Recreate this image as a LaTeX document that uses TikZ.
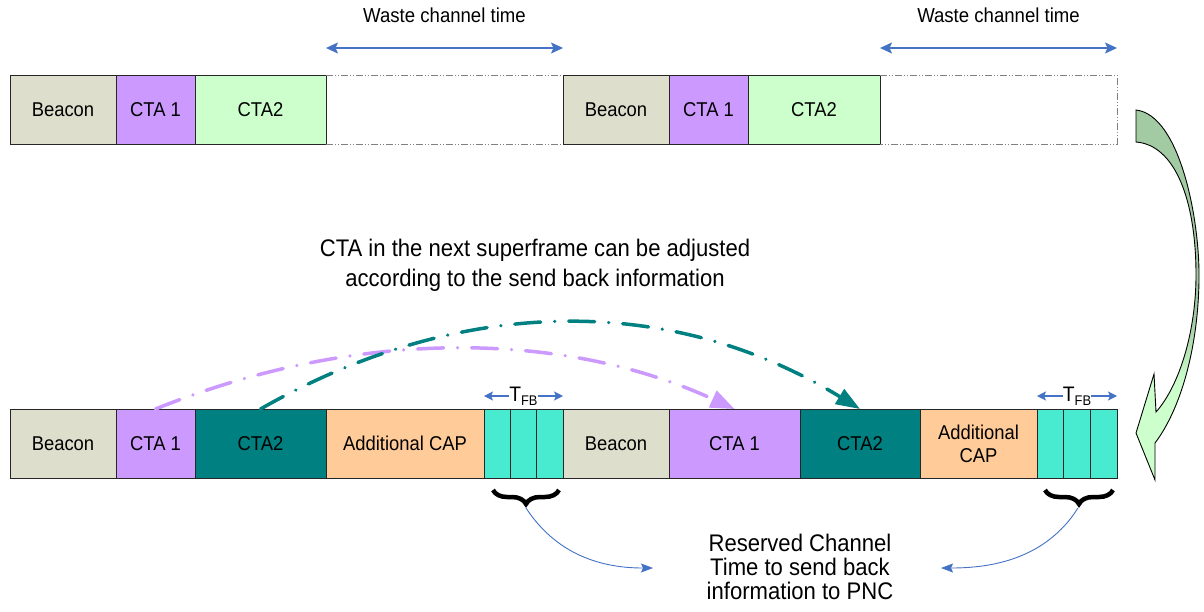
\documentclass[tikz,border=0pt]{standalone}
\usepackage{fontspec}
\setmainfont{Liberation Sans}[FakeStretch=0.92]
\usetikzlibrary{arrows.meta,decorations.pathreplacing}

\definecolor{beaconfill}{RGB}{221,223,204}
\definecolor{ctaone}{RGB}{204,153,255}
\definecolor{ctatwolight}{RGB}{204,255,204}
\definecolor{ctatwodark}{RGB}{0,128,128}
\definecolor{capfill}{RGB}{255,204,153}
\definecolor{fbfill}{RGB}{72,234,208}
\definecolor{linkblue}{RGB}{68,114,196}
\definecolor{greentop}{RGB}{163,203,163}
\definecolor{wastegray}{RGB}{128,128,128}

% vertical shading for the big turn arrow: dark green above, light green below
\pgfdeclareverticalshading{turnshade}{100bp}{color(0bp)=(ctatwolight); color(38bp)=(ctatwolight); color(47bp)=(greentop); color(100bp)=(greentop)}

\begin{document}
\begin{tikzpicture}[x=1pt,y=-1pt,
  cell/.style={draw=black!85, line width=0.9pt, anchor=north west, minimum height=69pt,
    inner sep=0pt, outer sep=0pt, align=center, font=\fontsize{20}{23}\selectfont},
  openslot/.style={anchor=north west, minimum height=69pt, inner sep=0pt, outer sep=0pt},
  slotedge/.style={draw=wastegray, line width=0.8pt,
    dash pattern=on 7pt off 2pt on 1pt off 2pt on 1pt off 2pt},
  spanarrow/.style={draw=linkblue, line width=1.5pt,
    {Stealth[length=12pt,width=11pt,inset=2.5pt]}-{Stealth[length=12pt,width=11pt,inset=2.5pt]}},
  spanlabel/.style={inner sep=0pt, font=\fontsize{20.2}{24}\selectfont},
  fbarrow/.style={draw=linkblue, line width=1.2pt, -{Stealth[length=9pt,width=9pt,inset=2pt]}},
  fblabel/.style={inner sep=0pt, font=\fontsize{21}{22}\selectfont},
  fbbrace/.style={draw=black, line width=4.5pt, decorate, decoration={brace, amplitude=14pt}},
  notearrow/.style={draw=linkblue, line width=0.9pt, -{Stealth[length=12pt,width=9pt,inset=2pt]}},
  note/.style={align=center, inner sep=0pt},
  linkone/.style={draw=ctaone, line width=3.5pt, line cap=round,
    dash pattern=on 26pt off 14pt on 0.01pt off 14pt, -{Triangle[length=24pt,width=18pt]}},
  linktwo/.style={draw=ctatwodark, line width=3.5pt, line cap=round,
    dash pattern=on 26pt off 14pt on 0.01pt off 14pt, -{Triangle[length=24pt,width=17pt]}}
]
\fill[white] (0,0) rectangle (1204,611);
\useasboundingbox (0,0) rectangle (1204,611);

% ---------- upper timeline: two superframes with unused time ----------
\node[cell, fill=beaconfill, minimum width=106pt] (tb1) at (10,75) {Beacon};
\node[cell, fill=ctaone, minimum width=79pt] (tc11) at (tb1.north east) {CTA 1};
\node[cell, fill=ctatwolight, minimum width=131pt] (tc21) at (tc11.north east) {CTA2};
\node[openslot, minimum width=237pt] (tw1) at (tc21.north east) {};
\draw[slotedge] (tw1.north west) -- (tw1.north east);
\draw[slotedge] (tw1.south west) -- (tw1.south east);
\node[cell, fill=beaconfill, minimum width=106pt] (tb2) at (tw1.north east) {Beacon};
\node[cell, fill=ctaone, minimum width=79pt] (tc12) at (tb2.north east) {CTA 1};
\node[cell, fill=ctatwolight, minimum width=132pt] (tc22) at (tc12.north east) {CTA2};
\node[openslot, minimum width=237pt] (tw2) at (tc22.north east) {};
\draw[slotedge] (tw2.north west) -- (tw2.north east) -- (tw2.south east) -- (tw2.south west);

\draw[spanarrow] ([yshift=27pt]tw1.north west) -- ([yshift=27pt]tw1.north east);
\draw[spanarrow] ([yshift=27pt]tw2.north west) -- ([yshift=27pt]tw2.north east);
\node[spanlabel] (tl1) at ([yshift=60pt]tw1.north) {Waste channel time};
\node[spanlabel] (tl2) at ([yshift=60pt]tw2.north) {Waste channel time};

% ---------- turn arrow on the right ----------
\shade[shading=turnshade, draw=black, line width=0.9pt]
  (1136,110) .. controls (1180,115) and (1200,220) .. (1199,280)
  .. controls (1198,350) and (1180,410) .. (1155,443)
  -- (1155,480) -- (1136,433) -- (1154,374) -- (1156,412)
  .. controls (1180,385) and (1196,330) .. (1196,275)
  .. controls (1196,200) and (1175,145) .. (1136,142) -- cycle;

% ---------- lower timeline: adjusted superframes with feedback slots ----------
\node[cell, fill=beaconfill, minimum width=106pt] (bb1) at (10,409) {Beacon};
\node[cell, fill=ctaone, minimum width=79pt] (bc11) at (bb1.north east) {CTA 1};
\node[cell, fill=ctatwodark, minimum width=131pt] (bc21) at (bc11.north east) {CTA2};
\node[cell, fill=capfill, minimum width=158pt] (bcap1) at (bc21.north east) {Additional CAP};
\node[cell, fill=fbfill, minimum width=26.3pt] (f11) at (bcap1.north east) {};
\node[cell, fill=fbfill, minimum width=26.3pt] (f12) at (f11.north east) {};
\node[cell, fill=fbfill, minimum width=26.4pt] (f13) at (f12.north east) {};
\node[cell, fill=beaconfill, minimum width=106pt] (bb2) at (f13.north east) {Beacon};
\node[cell, fill=ctaone, minimum width=131pt] (bc12) at (bb2.north east) {CTA 1};
\node[cell, fill=ctatwodark, minimum width=120pt] (bc22) at (bc12.north east) {CTA2};
\node[cell, fill=capfill, minimum width=117pt] (bcap2) at (bc22.north east) {Additional\\CAP};
\node[cell, fill=fbfill, minimum width=26.7pt] (f21) at (bcap2.north east) {};
\node[cell, fill=fbfill, minimum width=26.7pt] (f22) at (f21.north east) {};
\node[cell, fill=fbfill, minimum width=26.6pt] (f23) at (f22.north east) {};

% feedback slot width markers
\node[fblabel] (fb1) at ([yshift=13pt]f12.north) {T\raisebox{-4pt}{\fontsize{14}{14}\selectfont FB}};
\draw[fbarrow] (fb1.west) -- (fb1.west -| f11.west);
\draw[fbarrow] (fb1.east) -- (fb1.east -| f13.east);
\node[fblabel] (fb2) at ([yshift=13pt]f22.north) {T\raisebox{-4pt}{\fontsize{14}{14}\selectfont FB}};
\draw[fbarrow] (fb2.west) -- (fb2.west -| f21.west);
\draw[fbarrow] (fb2.east) -- (fb2.east -| f23.east);

% CTA adjustment links
\draw[linkone] (bc11.north) .. controls (354,329) and (560,329) .. (bc12.north);
\draw[linktwo] (bc21.north) .. controls (462,294) and (672,294) .. (bc22.north);

\node[note, font=\fontsize{24}{30}\selectfont] (adj) at (535,265)
  {CTA in the next superframe can be adjusted\\according to the send back information};

% braces under the feedback slots
\coordinate (br1r) at ([shift={(-4pt,-12pt)}]f13.south east);
\coordinate (br1l) at ([shift={(9pt,-12pt)}]f11.south west);
\coordinate (br2r) at ([shift={(-4pt,-12pt)}]f23.south east);
\coordinate (br2l) at ([shift={(8pt,-12pt)}]f21.south west);
\draw[fbbrace] (br1r) -- (br1l);
\draw[fbbrace] (br2r) -- (br2l);

\node[note, font=\fontsize{24}{24}\selectfont] (res) at (800,567)
  {Reserved Channel\\Time to send back\\information to PNC};

\coordinate (tip1) at (526,508);
\coordinate (tip2) at (1078,508);
\coordinate (res1in) at (653,568);
\coordinate (res2in) at (941,568);
\draw[notearrow] (tip1) .. controls (560,560) and (610,568) .. (res1in);
\draw[notearrow] (tip2) .. controls (1045,560) and (990,568) .. (res2in);
\end{tikzpicture}
\end{document}
